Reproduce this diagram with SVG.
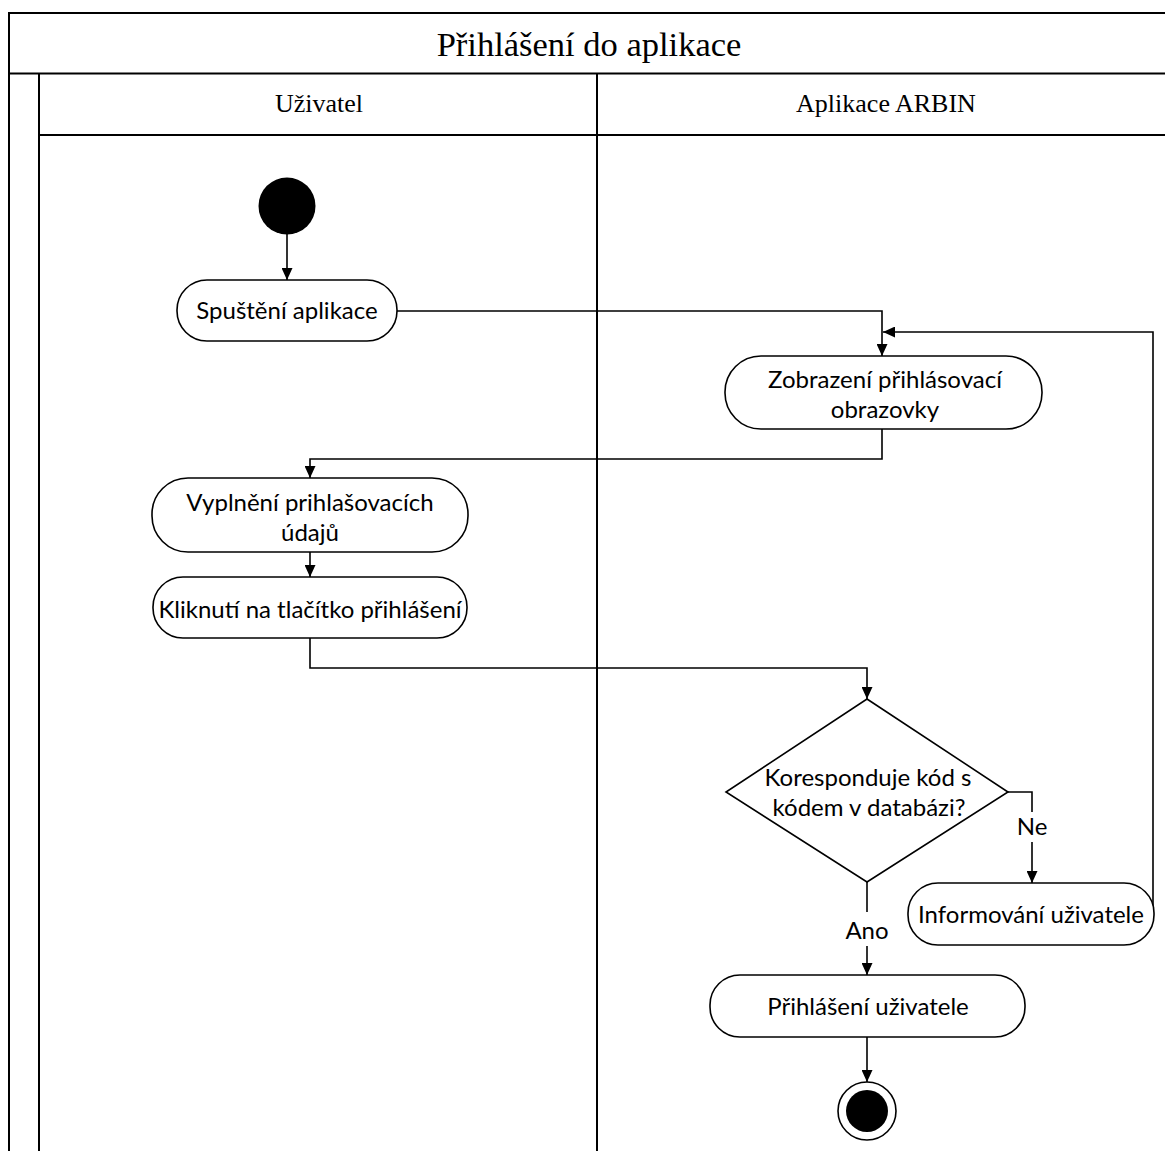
<svg xmlns="http://www.w3.org/2000/svg" width="1165" height="1151" viewBox="0 0 1165 1151">
  <style>
    .frame { fill: none; stroke: #000; stroke-width: 2; }
    .lane-title { font-family: "Liberation Serif", "Times New Roman", serif; fill: #000; text-anchor: middle; }
    .node { fill: #fff; stroke: #000; stroke-width: 1.6; }
    .label { font-family: Lato, "Liberation Sans", sans-serif; font-size: 24px; fill: #000; text-anchor: middle; }
    .edge { fill: none; stroke: #000; stroke-width: 1.6; }
    .gap { fill: #fff; stroke: none; }
  </style>
  <defs>
    <marker id="arrow" markerUnits="userSpaceOnUse" markerWidth="12" markerHeight="11" refX="12" refY="5.5" orient="auto">
      <path d="M0,0 L12,5.5 L0,11 Z" fill="#000"/>
    </marker>
  </defs>

  <rect width="1165" height="1151" fill="#fff"/>

  <!-- Swimlane frame -->
  <g id="swimlanes">
    <path class="frame" d="M9,1151 V13 H1165 M9,73.5 H1165 M39,73.5 V1151 M39,135 H1165 M597,73.5 V1151"/>
    <text class="lane-title" x="589" y="56" font-size="34.5">Přihlášení do aplikace</text>
    <text class="lane-title" x="319" y="112" font-size="26">Uživatel</text>
    <text class="lane-title" x="886" y="112" font-size="26">Aplikace ARBIN</text>
  </g>

  <!-- Connectors -->
  <g id="connectors">
    <path class="edge" marker-end="url(#arrow)" d="M287,234 V280"/>
    <path class="edge" marker-end="url(#arrow)" d="M397,311 H882 V356"/>
    <path class="edge" marker-end="url(#arrow)" d="M882,429 V459 H310 V478"/>
    <path class="edge" marker-end="url(#arrow)" d="M310,552 V577"/>
    <path class="edge" marker-end="url(#arrow)" d="M310,638 V668 H867 V699"/>
    <path class="edge" marker-end="url(#arrow)" d="M1008,792 H1032 V883"/>
    <path class="edge" marker-end="url(#arrow)" d="M1154,914 H1153 V332 H883"/>
    <path class="edge" marker-end="url(#arrow)" d="M867,882 V975"/>
    <path class="edge" marker-end="url(#arrow)" d="M867,1037 V1082"/>
    <g id="edge-labels">
      <rect class="gap" x="1016" y="812" width="32" height="30"/>
      <text class="label" x="1032" y="835">Ne</text>
      <rect class="gap" x="845" y="912" width="44" height="34"/>
      <text class="label" x="867" y="939">Ano</text>
    </g>
  </g>

  <!-- Nodes -->
  <g id="start">
    <circle cx="287" cy="206" r="28.5" fill="#000"/>
  </g>
  <g id="spusteni-aplikace">
    <rect class="node" x="177" y="280" width="220" height="61" rx="30"/>
    <text class="label" x="287" y="319">Spuštění aplikace</text>
  </g>
  <g id="zobrazeni-prihlasovaci-obrazovky">
    <rect class="node" x="725" y="356" width="317" height="73" rx="36"/>
    <text class="label" x="885" y="388">Zobrazení přihlásovací</text>
    <text class="label" x="885" y="418">obrazovky</text>
  </g>
  <g id="vyplneni-udaju">
    <rect class="node" x="152" y="478" width="316" height="74" rx="36"/>
    <text class="label" x="310" y="511">Vyplnění prihlašovacích</text>
    <text class="label" x="310" y="541">údajů</text>
  </g>
  <g id="kliknuti">
    <rect class="node" x="153" y="577" width="314" height="61" rx="30"/>
    <text class="label" x="310" y="618">Kliknutí na tlačítko přihlášení</text>
  </g>
  <g id="overeni-kodu">
    <polygon class="node" points="867,699 1008,792 867,882 726,792"/>
    <text class="label" x="868" y="786">Koresponduje kód s</text>
    <text class="label" x="869" y="816">kódem v databázi?</text>
  </g>
  <g id="informovani-uzivatele">
    <rect class="node" x="908" y="883" width="246" height="62" rx="30"/>
    <text class="label" x="1031" y="923">Informování uživatele</text>
  </g>
  <g id="prihlaseni-uzivatele">
    <rect class="node" x="710" y="975" width="315" height="62" rx="30"/>
    <text class="label" x="868" y="1015">Přihlášení uživatele</text>
  </g>
  <g id="end">
    <circle cx="867" cy="1111" r="29" fill="#fff" stroke="#000" stroke-width="1.6"/>
    <circle cx="867" cy="1111" r="21" fill="#000"/>
  </g>
</svg>
